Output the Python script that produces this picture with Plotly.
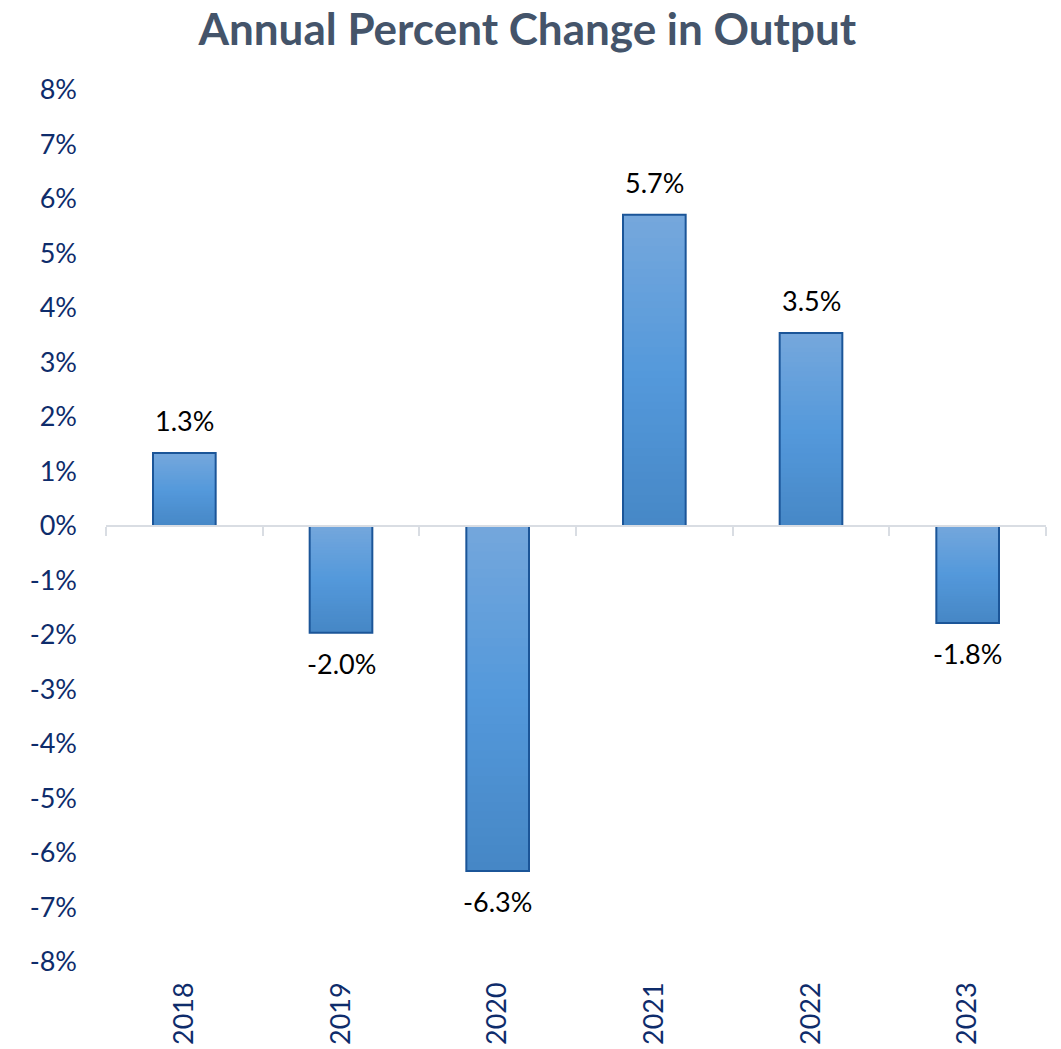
import plotly.graph_objects as go

years = ["2018", "2019", "2020", "2021", "2022", "2023"]
values = [1.34, -1.96, -6.33, 5.71, 3.54, -1.78]
labels = ["1.3%", "-2.0%", "-6.3%", "5.7%", "3.5%", "-1.8%"]
y_ticks = list(range(-8, 9))
y_tick_text = [f"{v}%" for v in y_ticks]

TOP = (117, 167, 220)
MID = (84, 153, 219)
BOT = (70, 135, 198)
OUTLINE = "#1B5598"
N = 40
BAR_W = 0.4


def grad(t):
    if t < 0.5:
        a, b, f = TOP, MID, t / 0.5
    else:
        a, b, f = MID, BOT, (t - 0.5) / 0.5
    c = [round(a[k] + (b[k] - a[k]) * f) for k in range(3)]
    return f"rgb({c[0]},{c[1]},{c[2]})"


fig = go.Figure()

# gradient fill: nested bars from full length to shortest (no seams)
for i in range(N):
    frac = (N - i) / N
    heights, cols = [], []
    for v in values:
        heights.append(v * frac)
        t = 1 - frac if v >= 0 else frac
        cols.append(grad(t))
    fig.add_trace(go.Bar(
        x=years, y=heights, width=BAR_W,
        marker=dict(color=cols, line=dict(width=0)),
        hoverinfo="skip", showlegend=False,
    ))

# outline
fig.add_trace(go.Bar(
    x=years, y=values, width=BAR_W,
    marker=dict(color="rgba(0,0,0,0)", line=dict(color=OUTLINE, width=2)),
    showlegend=False, hovertemplate="%{x}: %{y:.1f}%<extra></extra>",
))

# invisible trace on the bottom label axis
fig.add_trace(go.Scatter(x=[0, 5], y=[0, 0], xaxis="x2", mode="markers",
                         marker=dict(opacity=0), hoverinfo="skip", showlegend=False))

for idx, (v, lab) in enumerate(zip(values, labels)):
    fig.add_annotation(
        xref="x2", yref="y", x=idx, y=v, text=lab, showarrow=False,
        yanchor="bottom" if v >= 0 else "top",
        yshift=14 if v >= 0 else -12,
        font=dict(family="Lato", size=27, color="#000000"),
    )

fig.update_layout(
    width=1061, height=1049,
    margin=dict(l=106, r=15, t=90, b=87, autoexpand=False),
    paper_bgcolor="white", plot_bgcolor="white",
    barmode="overlay",
    title=dict(text="<b>Annual Percent Change in Output</b>", x=0.497, xanchor="center",
               y=0.972, yanchor="middle",
               font=dict(family="Lato", size=44, color="#44546A")),
    font=dict(family="Lato"),
    xaxis=dict(
        type="category", categoryorder="array", categoryarray=years,
        anchor="free", position=0.5, automargin=False,
        showline=True, linecolor="#D9DDE3", linewidth=2,
        ticks="outside", tickson="boundaries", ticklen=9, tickcolor="#D9DDE3", tickwidth=2,
        showticklabels=False, showgrid=False, zeroline=False,
        range=[-0.5, 5.5],
    ),
    xaxis2=dict(
        overlaying="x", anchor="y", side="bottom", automargin=False,
        range=[-0.5, 5.5], tickmode="array", tickvals=list(range(len(years))), ticktext=years,
        tickangle=-90, showgrid=False, zeroline=False, showline=False, ticks="",
        ticklabelstandoff=14,
        tickfont=dict(family="Lato", size=27, color="#0E2C6B"),
    ),
    yaxis=dict(
        range=[-8, 8], tickmode="array", tickvals=y_ticks, ticktext=y_tick_text,
        showgrid=False, zeroline=False, showline=False, ticks="", automargin=False,
        ticklabelstandoff=28,
        tickfont=dict(family="Lato", size=27, color="#0E2C6B"),
    ),
)

fig.write_html("out.html", config={"displayModeBar": False},
               post_script="document.body.style.margin='0';document.body.style.padding='0';")
